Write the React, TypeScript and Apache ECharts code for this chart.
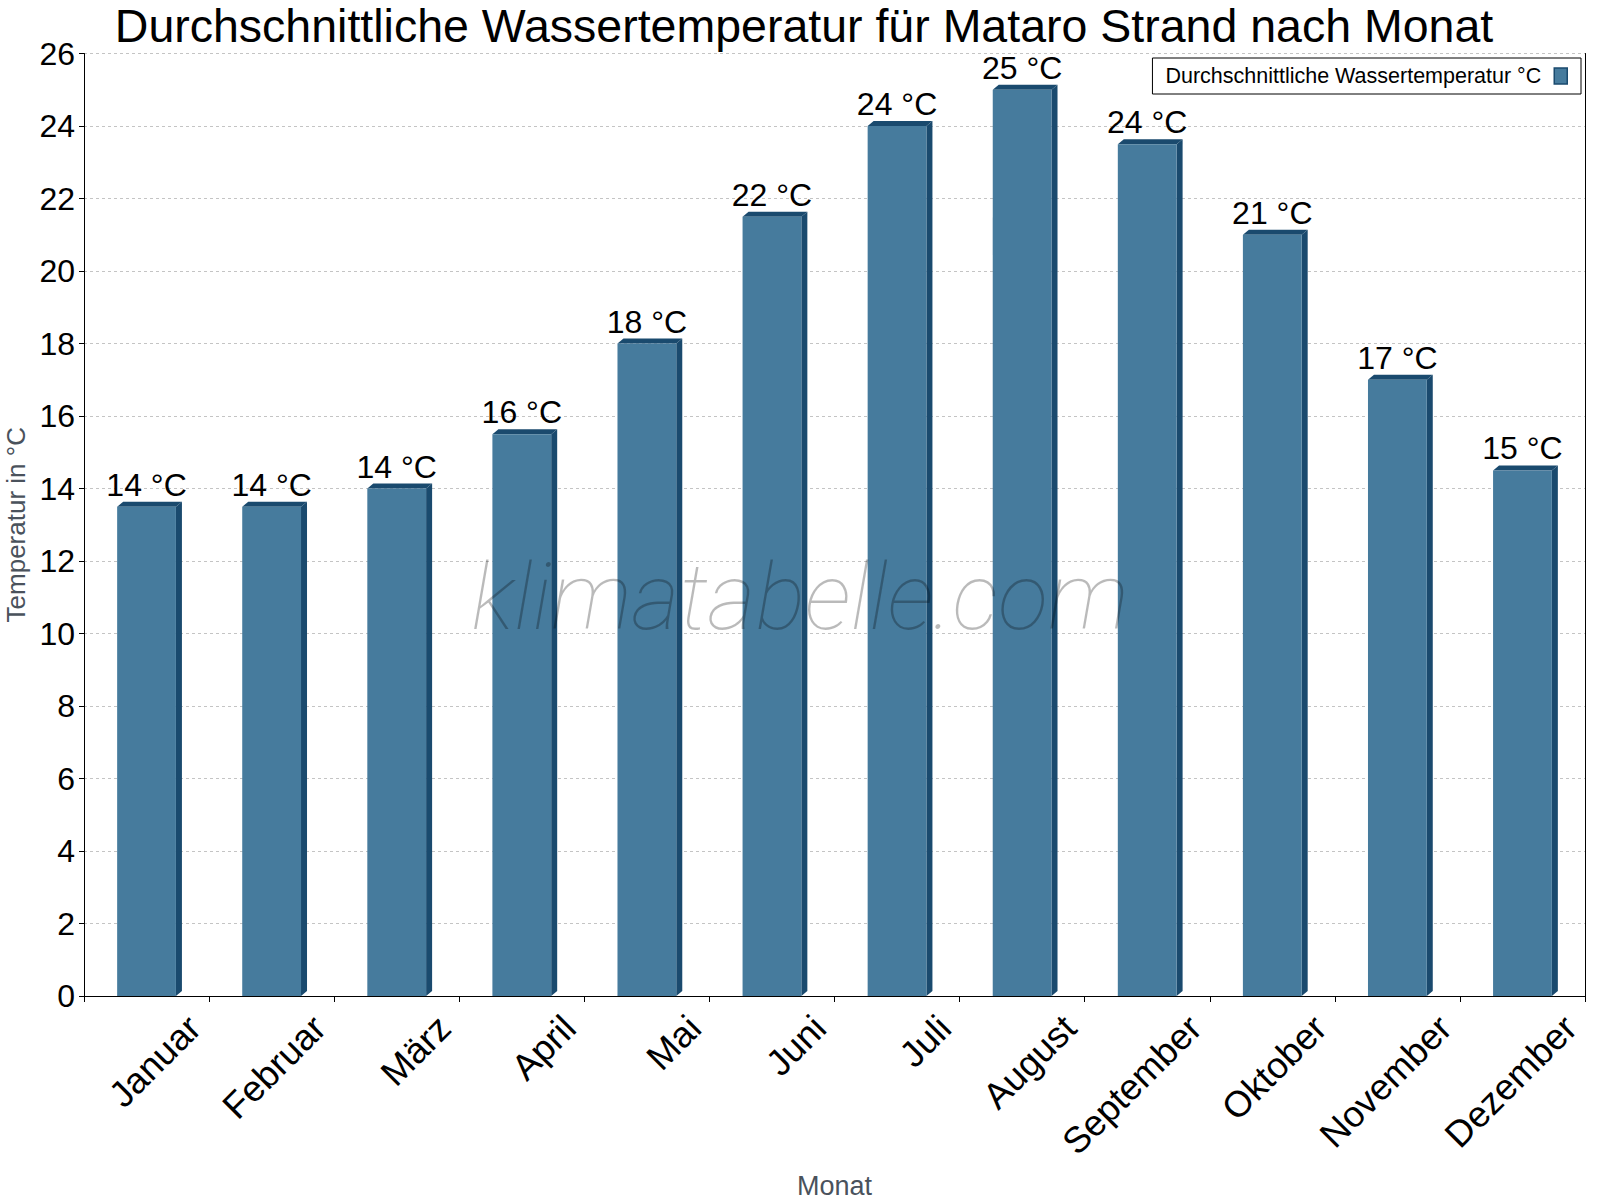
import React, { useEffect, useRef } from 'react'
import * as echarts from 'echarts'

const months = [
  'Januar', 'Februar', 'März', 'April', 'Mai', 'Juni',
  'Juli', 'August', 'September', 'Oktober', 'November', 'Dezember'
]
const waterTemp = [13.5, 13.5, 14, 15.5, 18, 21.5, 24, 25, 23.5, 21, 17, 14.5]
const yMin = 0
const yMax = 26
const yStep = 2

const seriesName = 'Durchschnittliche Wassertemperatur °C'
const titleText = 'Durchschnittliche Wassertemperatur für Mataro Strand nach Monat'

const FRONT = '#467b9d'
const DARK = '#1a4a6e'
const FONT = "'Liberation Sans', Arial, sans-serif"

export default function App() {
  const ref = useRef<HTMLDivElement | null>(null)

  useEffect(() => {
    if (!ref.current) return
    const chart = echarts.init(ref.current, null, { renderer: 'svg' })

    const opt: echarts.EChartsOption = {
      animation: false,
      backgroundColor: '#fff',
      textStyle: { fontFamily: FONT },
      title: {
        text: titleText,
        left: 799,
        textAlign: 'center',
        top: -3,
        textStyle: { fontSize: 46.5, fontWeight: 'normal', color: '#000', fontFamily: FONT }
      },
      legend: {
        right: 19,
        top: 58,
        align: 'right',
        icon: 'rect',
        itemWidth: 13,
        itemHeight: 16,
        padding: [7, 13, 7, 13],
        borderColor: '#000',
        borderWidth: 1,
        backgroundColor: '#fff',
        itemStyle: { borderColor: DARK, borderWidth: 1.5 },
        textStyle: { fontSize: 21.5, color: '#000', fontFamily: FONT, padding: [0, 8, 0, 0] },
        data: [seriesName]
      },
      grid: { left: 84, right: 15, top: 53.5, bottom: 204, outerBoundsMode: 'none' } as any,
      xAxis: [
        {
          type: 'category',
          data: months,
          position: 'bottom',
          axisLine: { lineStyle: { color: '#000', width: 1 } },
          axisTick: { show: true, length: 6, lineStyle: { color: '#000' } },
          axisLabel: { show: false },
          name: 'Monat',
          nameLocation: 'middle',
          nameGap: 176,
          nameTextStyle: { fontSize: 27, color: '#4a525c', fontFamily: FONT }
        },
        {
          type: 'category',
          data: ['', ...months],
          boundaryGap: false,
          position: 'bottom',
          offset: 0,
          axisLine: { show: false },
          axisTick: { show: false },
          splitLine: { show: false },
          axisLabel: {
            interval: 0,
            rotate: 45,
            margin: 11,
            padding: [0, 21, 0, 0],
            fontSize: 36.5,
            color: '#000',
            fontFamily: FONT
          }
        }
      ],
      yAxis: [
        {
          type: 'value',
          min: yMin,
          max: yMax,
          interval: yStep,
          position: 'left',
          axisLine: { show: true, lineStyle: { color: '#000', width: 1 } },
          axisTick: { show: true, length: 5, lineStyle: { color: '#000' } },
          axisLabel: { fontSize: 32, color: '#000', margin: 9, fontFamily: FONT },
          splitLine: { show: true, lineStyle: { color: '#c4c4c4', type: [3, 3], width: 1 } },
          name: 'Temperatur in °C',
          nameLocation: 'middle',
          nameGap: 46,
          nameRotate: 90,
          nameTextStyle: { fontSize: 26, color: '#4a525c', fontFamily: FONT }
        },
        {
          type: 'value',
          min: yMin,
          max: yMax,
          interval: yStep,
          position: 'right',
          axisLine: { show: true, lineStyle: { color: '#000', width: 1 } },
          axisTick: { show: false },
          axisLabel: { show: false },
          splitLine: { show: false }
        }
      ],
      series: [
        {
          name: seriesName,
          type: 'bar',
          xAxisIndex: 0,
          yAxisIndex: 0,
          data: waterTemp,
          barWidth: '47%',
          itemStyle: { color: FRONT },
          label: {
            show: true,
            position: 'top',
            distance: 6,
            fontSize: 32,
            color: '#000',
            fontFamily: FONT,
            formatter: (p: any) => `${Math.round(p.value)} °C`
          },
          z: 3
        },
        {
          // side and top faces that give the bars their depth
          type: 'custom',
          xAxisIndex: 0,
          yAxisIndex: 0,
          data: waterTemp.map((v, i) => [i, v]),
          encode: { x: 0, y: 1 },
          silent: true,
          z: 2,
          renderItem: (_params: any, api: any) => {
            const idx = api.value(0)
            const top = api.coord([idx, api.value(1)])
            const base = api.coord([idx, 0])
            const bw = api.size([1, 0])[0] * 0.47
            const x0 = top[0] - bw / 2
            const x1 = top[0] + bw / 2
            const dx = 6
            const dy = 5
            return {
              type: 'group',
              children: [
                {
                  type: 'polygon',
                  shape: { points: [[x1, top[1]], [x1 + dx, top[1] - dy], [x1 + dx, base[1] - dy], [x1, base[1]]] },
                  style: { fill: DARK }
                },
                {
                  type: 'polygon',
                  shape: { points: [[x0, top[1]], [x0 + dx, top[1] - dy], [x1 + dx, top[1] - dy], [x1, top[1]]] },
                  style: { fill: DARK }
                }
              ]
            }
          }
        }
      ],
      graphic: [
        {
          type: 'text',
          left: 'center',
          top: 551,
          z: 100,
          silent: true,
          style: {
            text: 'klimatabelle.com',
            font: "italic 100 93px Roboto, 'Liberation Sans', sans-serif",
            fill: 'rgba(0,0,0,0.27)'
          }
        }
      ]
    }

    chart.setOption(opt)
    return () => { chart.dispose() }
  }, [])

  return (
    <div
      ref={ref}
      style={{ position: 'fixed', left: 0, top: 0, width: 1600, height: 1200, background: '#fff' }}
    />
  )
}
